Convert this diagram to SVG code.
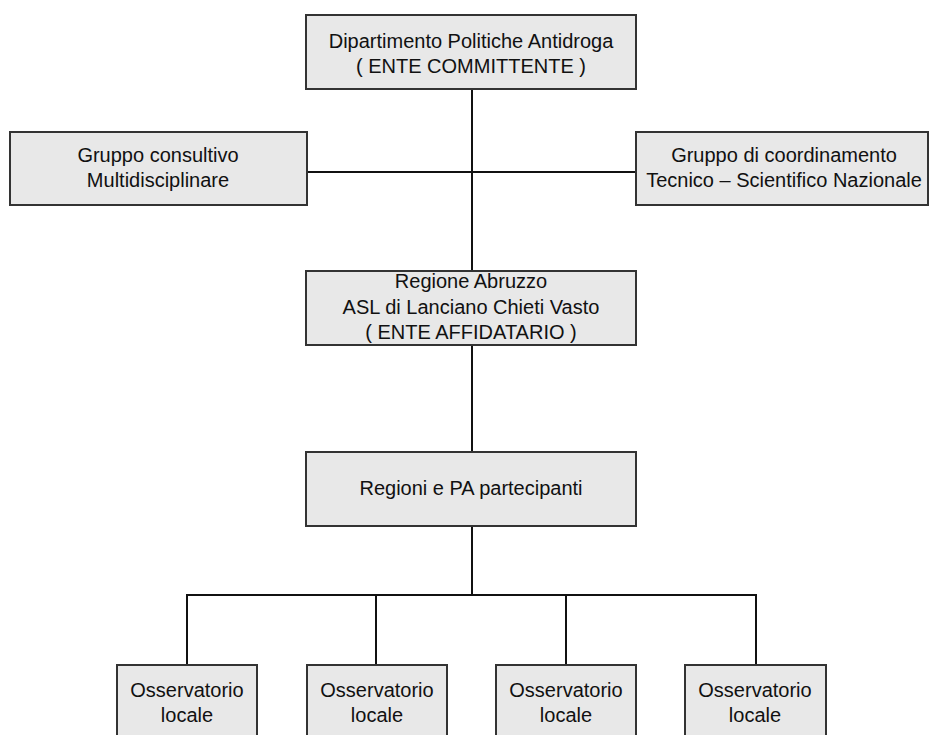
<svg xmlns="http://www.w3.org/2000/svg" width="930" height="735" viewBox="0 0 930 735">
<style>
.box{fill:#e8e8e8;stroke:#333;stroke-width:2}
.t{font-family:"Liberation Sans",Arial,sans-serif;font-size:20px;fill:#111;text-anchor:middle}
.c{stroke:#111;stroke-width:2;fill:none}
</style>
<rect width="930" height="735" fill="#fff"/>
<g id="connectors">
<line class="c" x1="472" y1="89" x2="472" y2="271"/>
<line class="c" x1="307" y1="172" x2="636" y2="172"/>
<line class="c" x1="472" y1="345" x2="472" y2="452"/>
<line class="c" x1="472" y1="526" x2="472" y2="595"/>
<polyline class="c" points="187,665 187,595 756,595 756,665"/>
<line class="c" x1="376" y1="595" x2="376" y2="665"/>
<line class="c" x1="566" y1="595" x2="566" y2="665"/>
</g>
<g id="n1"><rect class="box" x="306" y="15" width="330" height="74"/>
<text class="t" x="471" y="48">Dipartimento Politiche Antidroga</text>
<text class="t" x="471" y="73">( ENTE COMMITTENTE )</text></g>
<g id="n2"><rect class="box" x="10" y="132" width="297" height="73"/>
<text class="t" x="158" y="162">Gruppo consultivo</text>
<text class="t" x="158" y="187">Multidisciplinare</text></g>
<g id="n3"><rect class="box" x="636" y="132" width="292" height="73"/>
<text class="t" x="784" y="162">Gruppo di coordinamento</text>
<text class="t" x="784" y="187">Tecnico – Scientifico Nazionale</text></g>
<g id="n4"><rect class="box" x="306" y="271" width="330" height="74"/>
<text class="t" x="471" y="288">Regione Abruzzo</text>
<text class="t" x="471" y="314">ASL di Lanciano Chieti Vasto</text>
<text class="t" x="471" y="339">( ENTE AFFIDATARIO )</text></g>
<g id="n5"><rect class="box" x="306" y="452" width="330" height="74"/>
<text class="t" x="471" y="495">Regioni e PA partecipanti</text></g>
<g id="n6"><rect class="box" x="117" y="665" width="140" height="80"/>
<text class="t" x="187" y="697">Osservatorio</text>
<text class="t" x="187" y="722">locale</text></g>
<g id="n7"><rect class="box" x="307" y="665" width="140" height="80"/>
<text class="t" x="377" y="697">Osservatorio</text>
<text class="t" x="377" y="722">locale</text></g>
<g id="n8"><rect class="box" x="496" y="665" width="140" height="80"/>
<text class="t" x="566" y="697">Osservatorio</text>
<text class="t" x="566" y="722">locale</text></g>
<g id="n9"><rect class="box" x="685" y="665" width="141" height="80"/>
<text class="t" x="755" y="697">Osservatorio</text>
<text class="t" x="755" y="722">locale</text></g>
</svg>
